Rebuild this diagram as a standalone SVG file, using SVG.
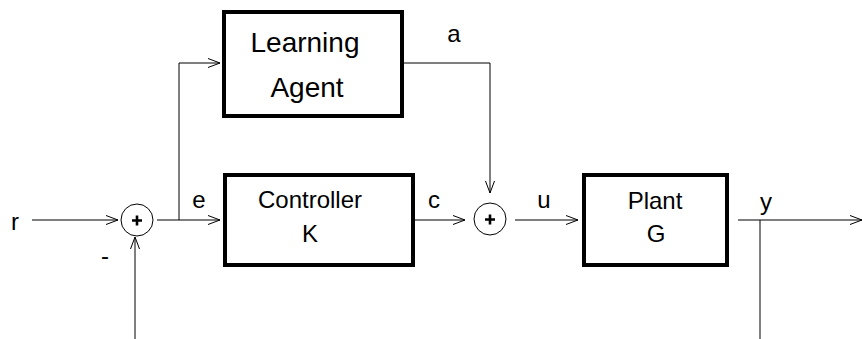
<svg xmlns="http://www.w3.org/2000/svg" width="863" height="339" viewBox="0 0 863 339">
  <style>
    .box { fill: #fff; stroke: #000; stroke-width: 4; }
    .sum { fill: #fff; stroke: #000; stroke-width: 1; }
    .plus { stroke: #000; stroke-width: 2.6; }
    .h { fill: none; stroke: #555; stroke-width: 1.6; }
    .v { fill: none; stroke: #000; stroke-width: 1; }
    .t { font-family: "Liberation Sans", Arial, sans-serif; fill: #000; text-anchor: middle; }
    .big { font-size: 28px; }
    .mid { font-size: 24px; }
    .lbl { font-size: 24px; }
  </style>
  <defs>
    <marker id="arrow" markerUnits="userSpaceOnUse" markerWidth="14" markerHeight="12" refX="12" refY="6" orient="auto" overflow="visible">
      <path d="M0,1.5 L12,6 L0,10.5" fill="none" stroke="#000" stroke-width="1"/>
    </marker>
  </defs>

  <!-- signal lines -->
  <g id="connectors">
    <path class="h" d="M32,220 H118" marker-end="url(#arrow)"/>
    <path class="h" d="M157,220 H220" marker-end="url(#arrow)"/>
    <path class="v" d="M179,220 V63 H220" marker-end="url(#arrow)"/>
    <path class="v" d="M404,63 H490 V193" marker-end="url(#arrow)"/>
    <path class="h" d="M415,220 H465" marker-end="url(#arrow)"/>
    <path class="h" d="M515,220 H578" marker-end="url(#arrow)"/>
    <path class="h" d="M738,220 H862" marker-end="url(#arrow)"/>
    <path class="v" d="M760,220 V339"/>
    <path class="v" d="M135,339 V237" marker-end="url(#arrow)"/>
  </g>

  <!-- summing junctions -->
  <g id="sum1">
    <circle class="sum" cx="137" cy="220" r="16"/>
    <path class="plus" d="M132,220.5 H142 M137,215.5 V225.5"/>
  </g>
  <g id="sum2">
    <circle class="sum" cx="490" cy="219" r="16"/>
    <path class="plus" d="M485,219.5 H495 M490,214.5 V224.5"/>
  </g>

  <!-- blocks -->
  <g id="learning-agent">
    <rect class="box" x="224" y="12" width="178" height="104"/>
    <text class="t big" x="305" y="52">Learning</text>
    <text class="t big" x="307" y="97">Agent</text>
  </g>
  <g id="controller">
    <rect class="box" x="225" y="175" width="188" height="90"/>
    <text class="t mid" x="310" y="208">Controller</text>
    <text class="t mid" x="310" y="242">K</text>
  </g>
  <g id="plant">
    <rect class="box" x="584" y="175" width="143" height="90"/>
    <text class="t mid" x="655" y="209">Plant</text>
    <text class="t mid" x="656" y="242">G</text>
  </g>

  <!-- signal labels -->
  <g id="labels">
    <text class="t lbl" x="15" y="230">r</text>
    <text class="t lbl" x="199" y="208" font-size="26">e</text>
    <text class="t lbl" x="105" y="264">-</text>
    <text class="t lbl" x="454" y="42">a</text>
    <text class="t lbl" x="434" y="208">c</text>
    <text class="t lbl" x="544" y="208">u</text>
    <text class="t lbl" x="766" y="210">y</text>
  </g>
</svg>
